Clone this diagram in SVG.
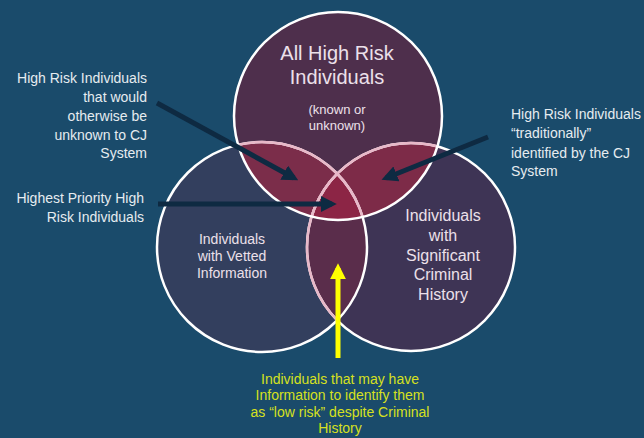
<svg xmlns="http://www.w3.org/2000/svg" width="644" height="438" viewBox="0 0 644 438">
<style>
.lbl{font-family:"Liberation Sans",Arial,sans-serif;font-size:14px;fill:#e6ecf0}
.ctx{font-family:"Liberation Sans",Arial,sans-serif;fill:#ece0ea;text-anchor:middle}
.ylw{font-family:"Liberation Sans",Arial,sans-serif;font-size:14px;fill:#d6e020;text-anchor:middle}
.ring{fill:none;stroke:#ffffff;stroke-width:2.5}
.ringp{fill:none;stroke:#e8b8c8;stroke-width:2.5}
.arr{stroke:#0e2a42;stroke-width:5;fill:none}
</style>
<defs>
<clipPath id="cTop"><circle cx="338" cy="116" r="104"/></clipPath>
<clipPath id="cLeft"><circle cx="262" cy="247" r="105"/></clipPath>
<clipPath id="cRight"><circle cx="411" cy="247" r="104"/></clipPath>
<marker id="ah" viewBox="0 0 10 10" refX="7" refY="5" markerWidth="3.2" markerHeight="3.2" markerUnits="strokeWidth" orient="auto">
<path d="M0,0 L10,5 L0,10 z" fill="#0e2a42"/>
</marker>
<marker id="ay" viewBox="0 0 10 10" refX="7" refY="5" markerWidth="3.2" markerHeight="3.2" markerUnits="strokeWidth" orient="auto">
<path d="M0,0 L10,5 L0,10 z" fill="#ffff00"/>
</marker>
</defs>
<rect width="644" height="438" fill="#1a4b6b"/>

<g id="circle-left">
<circle cx="262" cy="247" r="105" fill="#333f5e"/>
</g>
<g id="circle-right">
<circle cx="411" cy="247" r="104" fill="#3e3455"/>
</g>
<g id="circle-top">
<circle cx="338" cy="116" r="104" fill="#4e2f4c"/>
</g>
<g id="overlaps">
<g clip-path="url(#cLeft)"><circle cx="411" cy="247" r="104" fill="#5a2d4b"/></g>
<g clip-path="url(#cTop)"><circle cx="262" cy="247" r="105" fill="#7b2d4a"/></g>
<g clip-path="url(#cTop)"><circle cx="411" cy="247" r="104" fill="#7d2b48"/></g>
<g clip-path="url(#cTop)"><g clip-path="url(#cLeft)"><circle cx="411" cy="247" r="104" fill="#8c2545"/></g></g>
</g>
<g id="outlines">
<circle class="ring" cx="262" cy="247" r="105"/>
<circle class="ring" cx="411" cy="247" r="104"/>
<g clip-path="url(#cTop)">
<circle class="ringp" cx="262" cy="247" r="105"/>
<circle class="ringp" cx="411" cy="247" r="104"/>
</g>
<g clip-path="url(#cLeft)">
<circle class="ringp" cx="411" cy="247" r="104"/>
</g>
<circle class="ring" cx="338" cy="116" r="104"/>
</g>

<g id="text-top">
<text class="ctx" font-size="20" x="337" y="60">All High Risk</text>
<text class="ctx" font-size="20" x="337" y="84">Individuals</text>
<text class="ctx" font-size="13" x="337" y="114">(known or</text>
<text class="ctx" font-size="13" x="337" y="130">unknown)</text>
</g>
<g id="text-left">
<text class="ctx" font-size="14" x="232" y="244">Individuals</text>
<text class="ctx" font-size="14" x="232" y="261">with Vetted</text>
<text class="ctx" font-size="14" x="232" y="278">Information</text>
</g>
<g id="text-right">
<text class="ctx" font-size="16" x="443" y="221">Individuals</text>
<text class="ctx" font-size="16" x="443" y="241">with</text>
<text class="ctx" font-size="16" x="443" y="261">Significant</text>
<text class="ctx" font-size="16" x="443" y="280">Criminal</text>
<text class="ctx" font-size="16" x="443" y="300">History</text>
</g>

<g id="connectors">
<line class="arr" x1="157" y1="103" x2="294" y2="178" marker-end="url(#ah)"/>
<line class="arr" x1="158" y1="204" x2="332" y2="204" marker-end="url(#ah)"/>
<line class="arr" x1="488" y1="137" x2="386" y2="178" marker-end="url(#ah)"/>
<line stroke="#ffff00" stroke-width="5" x1="338" y1="358" x2="338" y2="268" marker-end="url(#ay)"/>
</g>

<g id="label-unknown">
<text class="lbl" text-anchor="end" x="147" y="83">High Risk Individuals</text>
<text class="lbl" text-anchor="end" x="147" y="102">that would</text>
<text class="lbl" text-anchor="end" x="147" y="121">otherwise be</text>
<text class="lbl" text-anchor="end" x="147" y="140">unknown to CJ</text>
<text class="lbl" text-anchor="end" x="147" y="158">System</text>
</g>
<g id="label-highest">
<text class="lbl" text-anchor="end" x="144" y="203">Highest Priority High</text>
<text class="lbl" text-anchor="end" x="144" y="222">Risk Individuals</text>
</g>
<g id="label-traditional">
<text class="lbl" x="511" y="119">High Risk Individuals</text>
<text class="lbl" x="511" y="138">“traditionally”</text>
<text class="lbl" x="511" y="158">identified by the CJ</text>
<text class="lbl" x="511" y="176">System</text>
</g>
<g id="label-lowrisk">
<text class="ylw" x="340" y="384">Individuals that may have</text>
<text class="ylw" x="340" y="400">Information to identify them</text>
<text class="ylw" x="340" y="417">as “low risk” despite Criminal</text>
<text class="ylw" x="340" y="433">History</text>
</g>
</svg>
